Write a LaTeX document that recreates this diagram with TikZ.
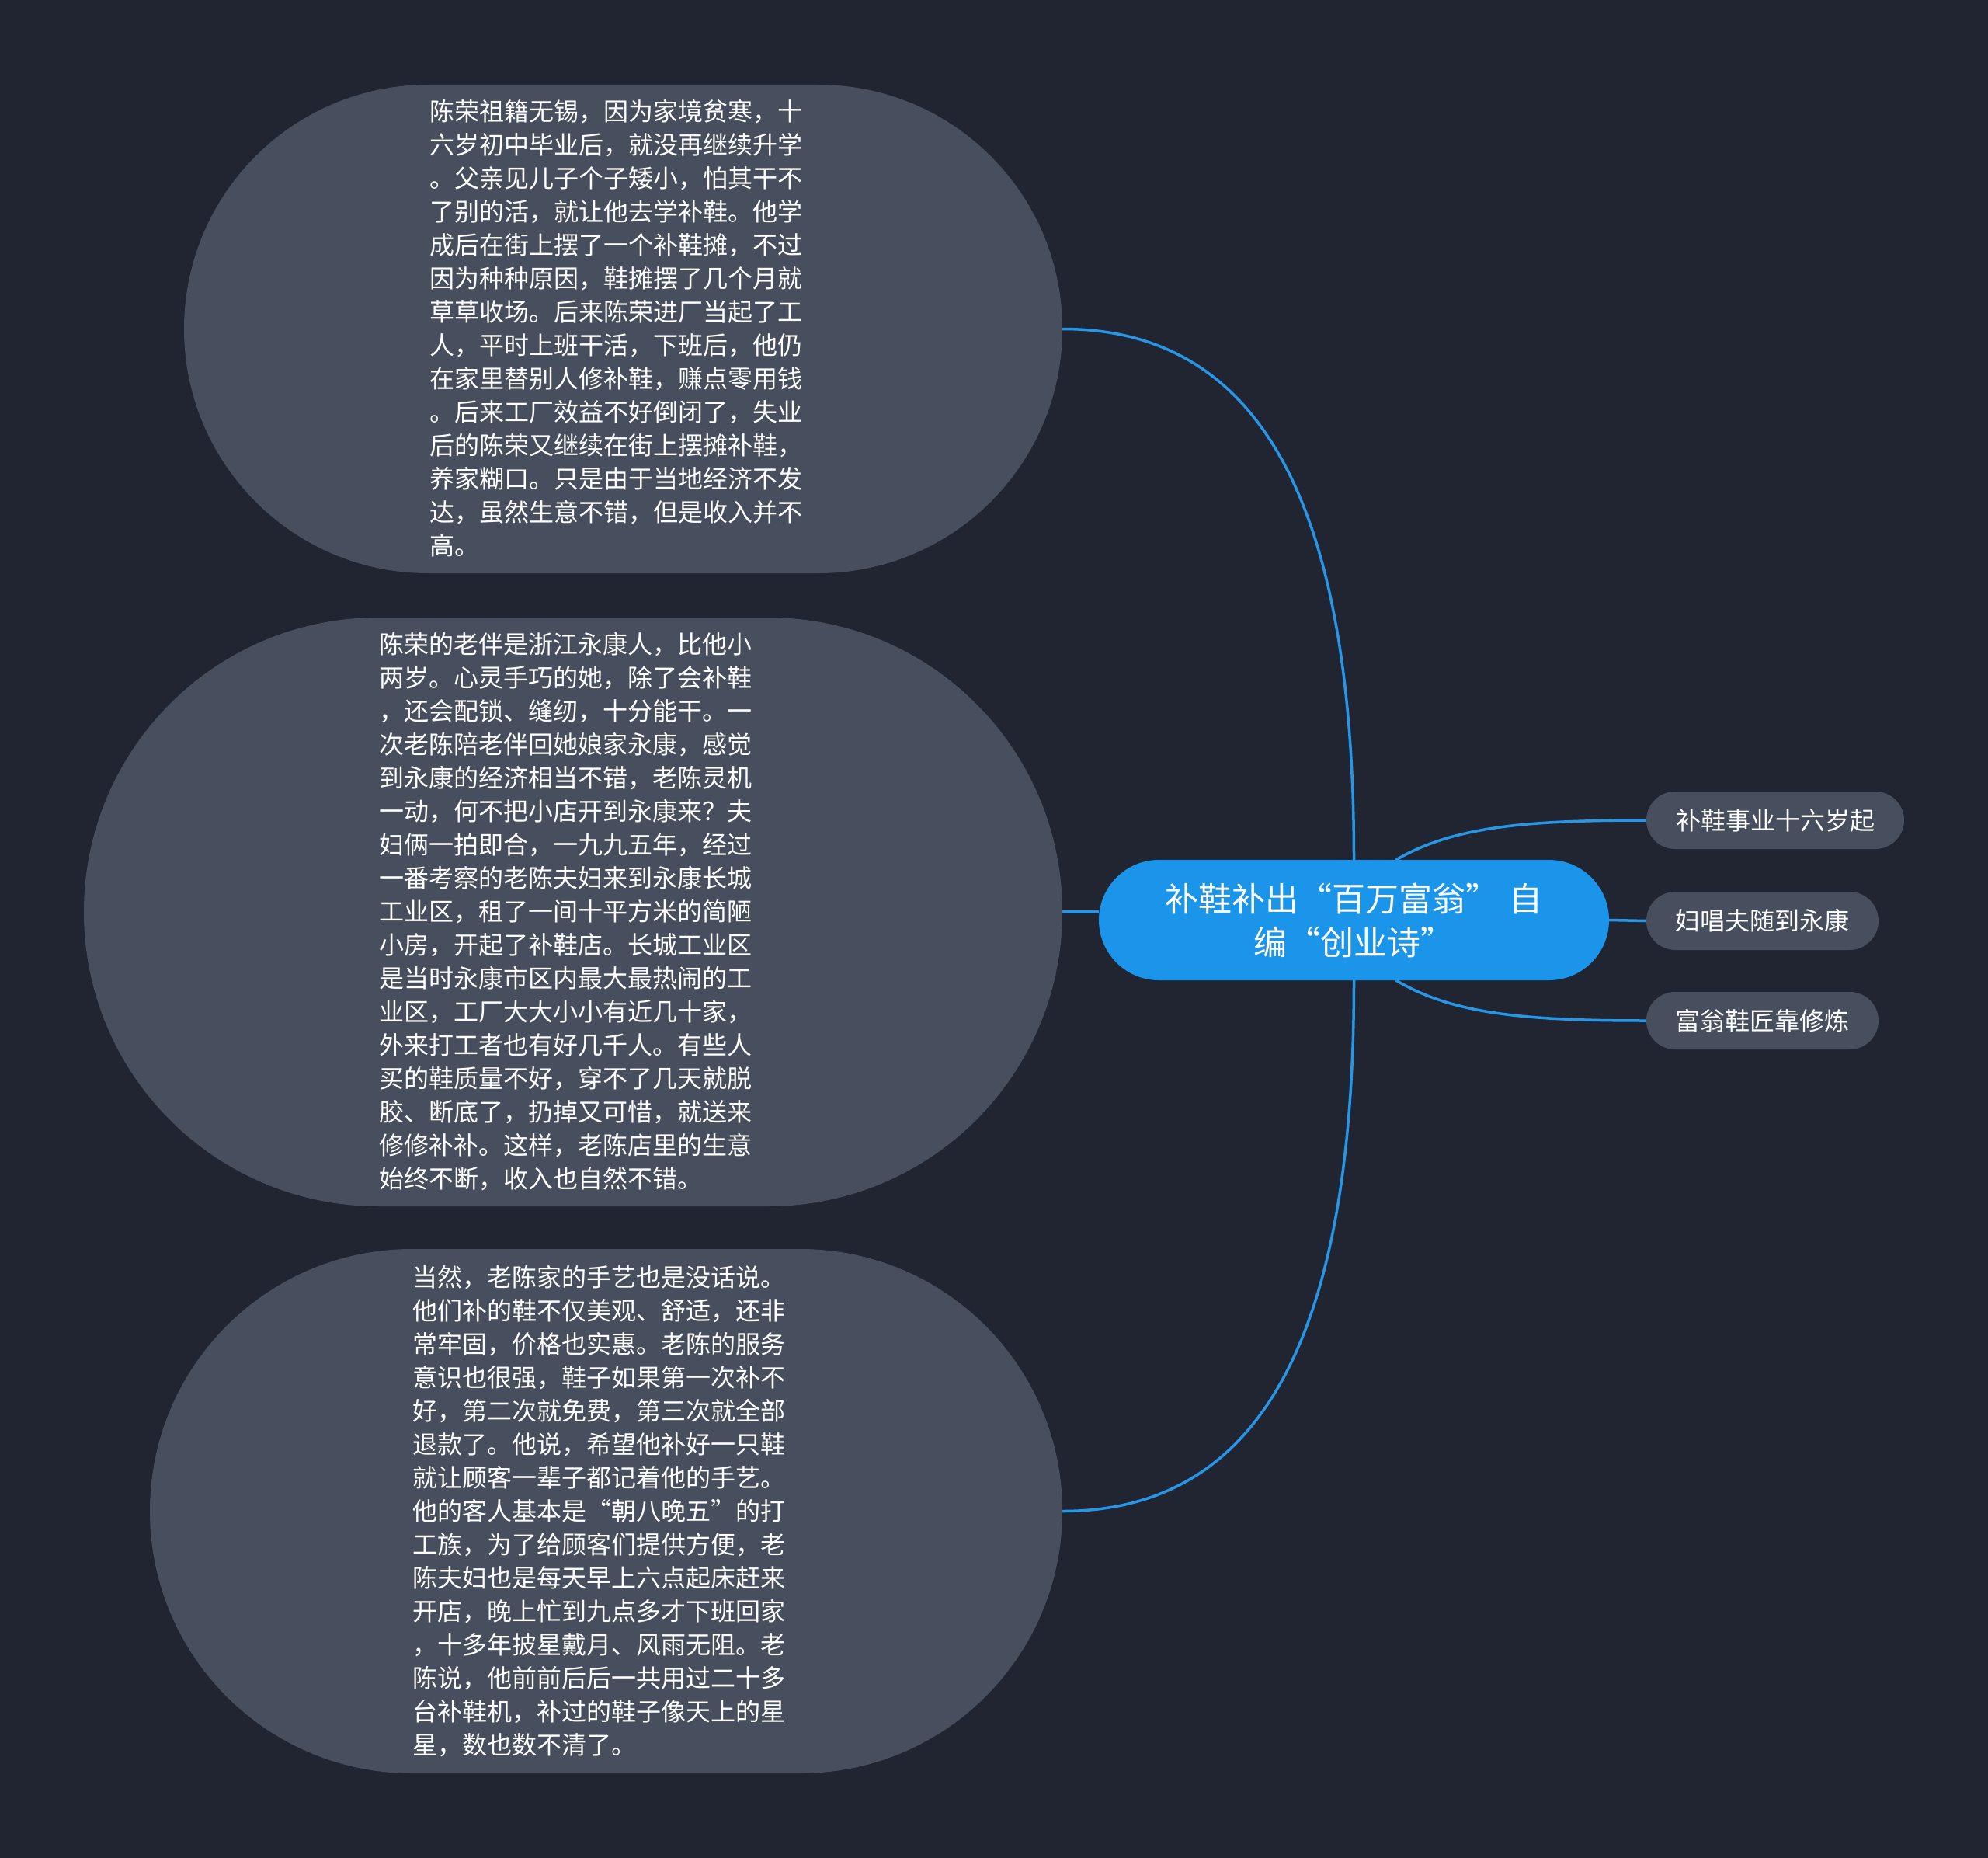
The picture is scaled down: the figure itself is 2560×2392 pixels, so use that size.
\documentclass[tikz,border=0pt]{standalone}
\usepackage{fontspec}
\newfontfamily\cjk[CharacterWidth=Full]{Noto Sans CJK SC}
\usetikzlibrary{shapes.misc}
\definecolor{bgcol}{HTML}{212531}
\definecolor{bubblegray}{HTML}{474E5D}
\definecolor{mainblue}{HTML}{1B95EA}
\definecolor{linkblue}{HTML}{2896E6}
\pgfdeclarelayer{bglayer}
\pgfdeclarelayer{edgelayer}
\pgfsetlayers{bglayer,edgelayer,main}
\begin{document}
\begin{tikzpicture}[x=1pt,y=-1pt,
  bubble/.style={rounded rectangle, fill=bubblegray, draw=none, inner sep=0pt, outer sep=0pt},
  bodytext/.style={text=white, align=left, inner sep=0pt, font=\cjk\fontsize{32}{43}\selectfont},
  topic/.style={rounded rectangle, fill=mainblue, draw=none, inner sep=0pt, outer sep=0pt, text=white, align=center, font=\cjk\fontsize{43}{56}\selectfont},
  sub/.style={rounded rectangle, fill=bubblegray, draw=none, inner sep=0pt, outer sep=0pt, text=white, font=\cjk\fontsize{32}{40}\selectfont},
  link/.style={draw=linkblue, line width=3.5pt}]
\begin{pgfonlayer}{bglayer}
\fill[bgcol] (0,0) rectangle (2560,2392);
\end{pgfonlayer}
\useasboundingbox (0,0) rectangle (2560,2392);

% left bubbles
\node[bubble, minimum width=1131pt, minimum height=629pt] (b1) at (802.5,423.5) {};
\node[bubble, minimum width=1260pt, minimum height=758pt] (b2) at (738,1174) {};
\node[bubble, minimum width=1175pt, minimum height=675pt] (b3) at (780.5,1945.5) {};

\node[bodytext] (t1) at (793,423) {陈荣祖籍无锡，因为家境贫寒，十\\六岁初中毕业后，就没再继续升学\\。父亲见儿子个子矮小，怕其干不\\了别的活，就让他去学补鞋。他学\\成后在街上摆了一个补鞋摊，不过\\因为种种原因，鞋摊摆了几个月就\\草草收场。后来陈荣进厂当起了工\\人，平时上班干活，下班后，他仍\\在家里替别人修补鞋，赚点零用钱\\。后来工厂效益不好倒闭了，失业\\后的陈荣又继续在街上摆摊补鞋，\\养家糊口。只是由于当地经济不发\\达，虽然生意不错，但是收入并不\\高。};

\node[bodytext] (t2) at (728,1174) {陈荣的老伴是浙江永康人，比他小\\两岁。心灵手巧的她，除了会补鞋\\，还会配锁、缝纫，十分能干。一\\次老陈陪老伴回她娘家永康，感觉\\到永康的经济相当不错，老陈灵机\\一动，何不把小店开到永康来？夫\\妇俩一拍即合，一九九五年，经过\\一番考察的老陈夫妇来到永康长城\\工业区，租了一间十平方米的简陋\\小房，开起了补鞋店。长城工业区\\是当时永康市区内最大最热闹的工\\业区，工厂大大小小有近几十家，\\外来打工者也有好几千人。有些人\\买的鞋质量不好，穿不了几天就脱\\胶、断底了，扔掉又可惜，就送来\\修修补补。这样，老陈店里的生意\\始终不断，收入也自然不错。};

\node[bodytext] (t3) at (771,1946) {当然，老陈家的手艺也是没话说。\\他们补的鞋不仅美观、舒适，还非\\常牢固，价格也实惠。老陈的服务\\意识也很强，鞋子如果第一次补不\\好，第二次就免费，第三次就全部\\退款了。他说，希望他补好一只鞋\\就让顾客一辈子都记着他的手艺。\\他的客人基本是“朝八晚五”的打\\工族，为了给顾客们提供方便，老\\陈夫妇也是每天早上六点起床赶来\\开店，晚上忙到九点多才下班回家\\，十多年披星戴月、风雨无阻。老\\陈说，他前前后后一共用过二十多\\台补鞋机，补过的鞋子像天上的星\\星，数也数不清了。};

% central topic
\node[topic, minimum width=657pt, minimum height=155pt] (c) at (1743.5,1184.5) {补鞋补出“百万富翁”\hspace{0.3em}自\\编“创业诗”};

% right subtopics
\node[sub, minimum width=332pt, minimum height=74pt] (r1) at (2286,1056) {补鞋事业十六岁起};
\node[sub, minimum width=299pt, minimum height=75pt] (r2) at (2269.5,1185.5) {妇唱夫随到永康};
\node[sub, minimum width=299pt, minimum height=74pt] (r3) at (2269.5,1314) {富翁鞋匠靠修炼};

% connectors
\begin{pgfonlayer}{edgelayer}
\draw[link] (b1.east) .. controls (1640,423.5) and (1743.5,680) .. (c.north);
\draw[link] (b2.east) -- (b2.east -| c.west);
\draw[link] (c.south) .. controls (1743.5,1690) and (1640,1945.5) .. (b3.east);
\draw[link] ([xshift=54pt]c.north) .. controls (1870,1065) and (1960,1056) .. (r1.west);
\draw[link] (c.east) -- (r2.west);
\draw[link] ([xshift=54pt]c.south) .. controls (1870,1305) and (1960,1314) .. (r3.west);
\end{pgfonlayer}
\end{tikzpicture}
\end{document}
